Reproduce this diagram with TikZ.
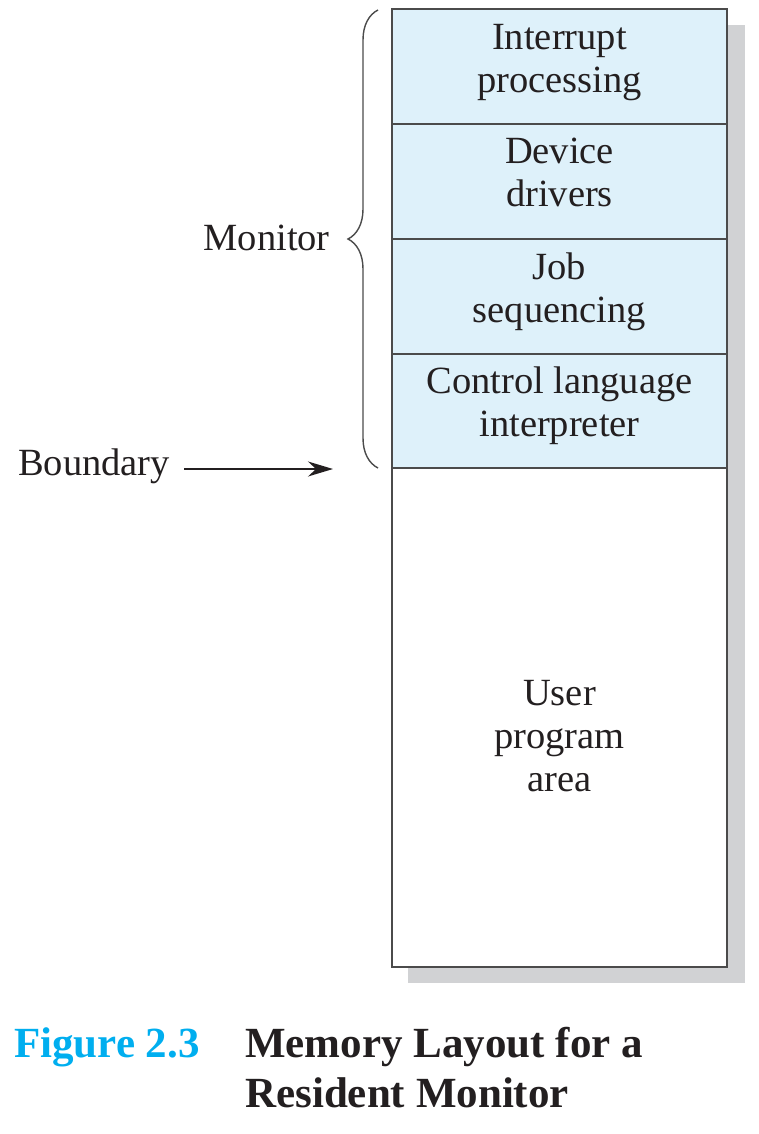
\documentclass[tikz,border=0pt]{standalone}
\usepackage{fontspec}
\setmainfont{Liberation Serif}
\usetikzlibrary{arrows.meta,decorations.pathreplacing}
\definecolor{boxblue}{RGB}{222,241,250}
\definecolor{shadowgray}{RGB}{209,210,212}
\definecolor{edgegray}{RGB}{75,75,75}
\definecolor{capcyan}{RGB}{0,174,239}
\definecolor{inkc}{RGB}{35,31,32}
\begin{document}
\begin{tikzpicture}[x=1pt,y=-1pt,
  sect/.style={draw=edgegray, line width=2pt, minimum width=335pt, inner sep=0pt},
  lbl/.style={font=\fontsize{38.5}{43}\selectfont, align=center, text=inkc, inner sep=0pt, anchor=base},
  captext/.style={font=\fontsize{43}{50}\selectfont\bfseries, inner sep=0pt, anchor=base west, align=left},
  bracestyle/.style={draw=edgegray, line width=1.4pt, decorate, decoration={brace, amplitude=30pt}},
  arr/.style={draw=inkc, line width=1.5pt, -{Stealth[length=25pt,width=15pt,inset=8pt]}}]
\useasboundingbox (0,0) rectangle (758,1134);
% shadow
\fill[shadowgray] (408,25) rectangle (745,983);
% memory sections
\node[sect, fill=boxblue, minimum height=115pt] (s1) at (559.5,66.5) {};
\node[sect, fill=boxblue, minimum height=115pt] (s2) at (559.5,181.5) {};
\node[sect, fill=boxblue, minimum height=115pt] (s3) at (559.5,296.5) {};
\node[sect, fill=boxblue, minimum height=114pt] (s4) at (559.5,411) {};
\node[sect, fill=white, minimum height=499pt] (s5) at (559.5,717.5) {};
% section texts (anchor = baseline of last line)
\node[lbl] (t1) at (559.5,93) {Interrupt\\processing};
\node[lbl] (t2) at (559.5,206) {Device\\drivers};
\node[lbl] (t3) at (559.5,322) {Job\\sequencing};
\node[lbl] (t4) at (559.5,436) {Control language\\interpreter};
\node[lbl] (t5) at (559.5,791) {User\\program\\area};
% brace and Monitor label
\coordinate (bt) at (378,10);
\coordinate (bb) at (378,468);
\draw[bracestyle] (bb) -- (bt);
\node[lbl, anchor=base east] (mon) at (330,250) {Monitor};
% boundary
\node[lbl, anchor=base west] (bnd) at (18,475) {Boundary};
\coordinate (bend) at (333,469);
\draw[arr] ([xshift=14pt]bnd.east |- bend) -- (bend);
% caption
\node[captext, text=capcyan] (fig) at (14,1057) {Figure 2.3};
\node[captext, text=inkc] (ttl) at (245,1107) {Memory Layout for a\\Resident Monitor};
\end{tikzpicture}
\end{document}
